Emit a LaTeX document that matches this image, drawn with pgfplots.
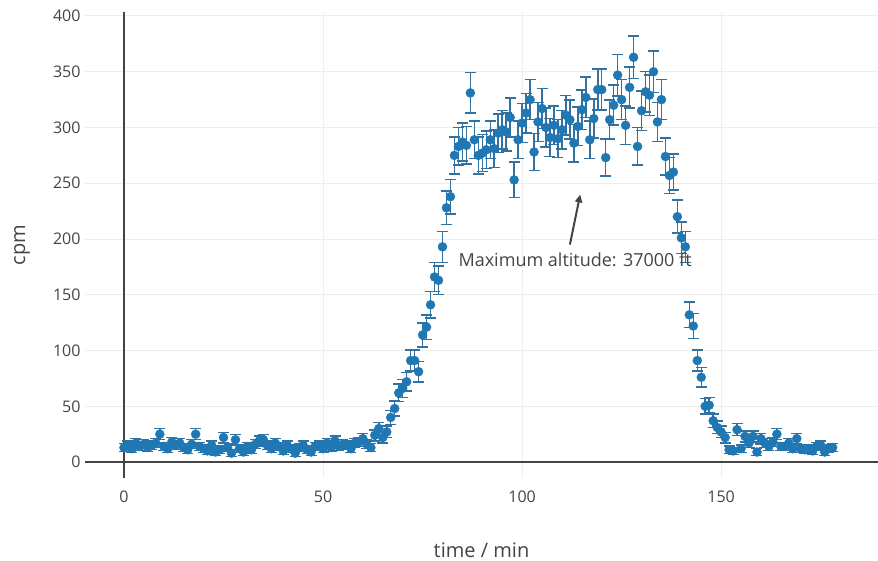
\documentclass[border=0pt]{standalone}
\usepackage{pgfplots}
\pgfplotsset{compat=1.18}
\usepackage{pgfplotstable}
\usepackage{fontspec}
\setmainfont{Open Sans}
\usetikzlibrary{arrows.meta}
\definecolor{pblue}{HTML}{1F77B4}
\definecolor{ebar}{HTML}{3372A0}
\definecolor{txt}{HTML}{444444}
\definecolor{grd}{HTML}{EEEEEE}

\pgfplotstableread{
t y e
0 13 3.6
1 15 3.9
2 12 3.5
3 17 4.1
4 14 3.7
5 16 4.0
6 13 3.6
7 15 3.9
8 17 4.1
9 25 5.0
10 14 3.7
11 12 3.5
12 18 4.2
13 15 3.9
14 17 4.1
15 13 3.6
16 11 3.3
17 16 4.0
18 25 5.0
19 14 3.7
20 12 3.5
21 10 3.2
22 15 3.9
23 9 3.0
24 11 3.3
25 22 4.7
26 13 3.6
27 8 2.8
28 20 4.5
29 12 3.5
30 9 3.0
31 14 3.7
32 11 3.3
33 16 4.0
34 19 4.4
35 20 4.5
36 15 3.9
37 12 3.5
38 17 4.1
39 14 3.7
40 10 3.2
41 15 3.9
42 12 3.5
43 8 2.8
44 13 3.6
45 15 3.9
46 11 3.3
47 9 3.0
48 14 3.7
49 15 3.9
50 12 3.5
51 17 4.1
52 13 3.6
53 19 4.4
54 14 3.7
55 16 4.0
56 15 3.9
57 12 3.5
58 17 4.1
59 18 4.2
60 21 4.6
61 16 4.0
62 13 3.6
63 24 4.9
64 30 5.5
65 22 4.7
66 27 5.2
67 40 6.3
68 48 6.9
69 62 7.9
70 66 8.1
71 72 8.5
72 91 9.5
73 91 9.5
74 81 9.0
75 114 10.7
76 121 11.0
77 141 11.9
78 166 12.9
79 163 12.8
80 193 13.9
81 228 15.1
82 238 15.4
83 275 16.6
84 283 16.8
85 287 16.9
86 284 16.9
87 331 18.2
88 289 17.0
89 275 16.6
90 277 16.6
91 280 16.7
92 289 17.0
93 281 16.8
94 295 17.2
95 298 17.3
96 296 17.2
97 309 17.6
98 253 15.9
99 289 17.0
100 304 17.4
101 313 17.7
102 325 18.0
103 278 16.7
104 305 17.5
105 317 17.8
106 300 17.3
107 291 17.1
108 302 17.4
109 290 17.0
110 298 17.3
111 311 17.6
112 307 17.5
113 286 16.9
114 301 17.3
115 316 17.8
116 327 18.1
117 289 17.0
118 308 17.5
119 334 18.3
120 334 18.3
121 273 16.5
122 307 17.5
123 320 17.9
124 347 18.6
125 325 18.0
126 302 17.4
127 336 18.3
128 363 19.1
129 283 16.8
130 315 17.7
131 332 18.2
132 329 18.1
133 350 18.7
134 305 17.5
135 325 18.0
136 274 16.6
137 257 16.0
138 260 16.1
139 220 14.8
140 201 14.2
141 193 13.9
142 132 11.5
143 122 11.0
144 91 9.5
145 76 8.7
146 50 7.1
147 51 7.1
148 37 6.1
149 31 5.6
150 27 5.2
151 22 4.7
152 11 3.3
153 10 3.2
154 29 5.4
155 12 3.5
156 23 4.8
157 17 4.1
158 23 4.8
159 9 3.0
160 21 4.6
161 17 4.1
162 14 3.7
163 18 4.2
164 25 5.0
165 14 3.7
166 14 3.7
167 17 4.1
168 12 3.5
169 21 4.6
170 12 3.5
171 11 3.3
172 12 3.5
173 10 3.2
174 14 3.7
175 15 3.9
176 9 3.0
177 12 3.5
178 13 3.6
}\data

\begin{document}
\begin{tikzpicture}
\path[use as bounding box] (0pt,0pt) rectangle (878pt,561pt);
\begin{axis}[
  at={(85pt,83pt)}, anchor=south west, scale only axis,
  width=793pt, height=466pt,
  xmin=-9.8, xmax=189.4, ymin=-14.3, ymax=403.6,
  axis line style={draw=none}, major tick length=0pt,
  xtick={0,50,100,150}, ytick={0,50,...,400},
  grid=major, major grid style={grd, line width=1pt},
  tick label style={font=\fontsize{16}{19}\selectfont, text=txt},
  /pgf/number format/assume math mode=true,
  xticklabel style={yshift=-9pt},
  yticklabel style={xshift=-1pt},
  xlabel={time / min}, ylabel={cpm},
  label style={font=\fontsize{20}{24}\selectfont, text=txt},
  xlabel style={at={(axis description cs:0.5,-0.1545)}, anchor=center},
  ylabel style={at={(axis description cs:-0.0794,0.5)}, anchor=center},
  clip=false,
]
\draw[txt, line width=1.5pt] (axis cs:0,-14.3) -- (axis cs:0,403.6);
\draw[txt, line width=1.5pt] (axis cs:-9.8,0) -- (axis cs:189.4,0);
\addplot[only marks, mark=*, mark size=4.5pt, color=pblue,
  mark options={fill=pblue, draw=pblue},
  error bars/.cd, y dir=both, y explicit,
  error bar style={ebar, line width=1.5pt},
  error mark options={ebar, line width=1.5pt, mark size=5.5pt, rotate=90}]
  table[x=t, y=y, y error=e] {\data};
\draw[-{Triangle[length=8pt,width=7pt]}, txt, line width=2pt] (axis cs:112,195) -- (axis cs:114.6,240);
\node[txt, font=\fontsize{18}{21}\selectfont, anchor=center] at (axis cs:113.3,181) {Maximum altitude: 37000 ft};
\end{axis}
\end{tikzpicture}
\end{document}
